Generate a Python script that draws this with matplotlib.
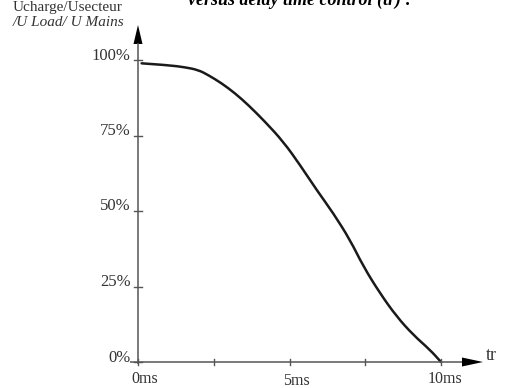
import matplotlib
matplotlib.use("Agg")
import matplotlib.pyplot as plt
from matplotlib.path import Path
from matplotlib.patches import PathPatch

# data
t_ms = [0.12, 1.0, 1.55, 1.99, 2.32, 2.76, 3.2, 3.64, 4.19, 4.8, 5.35, 5.9,
        6.45, 7.0, 7.44, 7.99, 8.54, 9.09, 9.64, 10.0]
ratio_pct = [98.9, 98.3, 97.6, 96.7, 95.0, 92.3, 89.0, 85.1, 79.6, 72.9, 65.2, 56.9,
             49.2, 40.4, 31.6, 22.7, 15.0, 8.9, 4.0, 0.0]
x_ticks = [0, 2.5, 5, 7.5, 10]
x_label_vals = [0, 5, 10]
x_labels = ["0ms", "5ms", "10ms"]
y_ticks = [0, 25, 50, 75, 100]
y_labels = ["0%", "25%", "50%", "75%", "100%"]

W, H = 505, 388
fig = plt.figure(figsize=(W / 100, H / 100), dpi=100)
fig.patch.set_facecolor("white")
L, R, T, B = 138, 441, 60, 362
ax = fig.add_axes([L / W, (H - B) / H, (R - L) / W, (B - T) / H])
ax.set_xlim(0, 10)
ax.set_ylim(0, 100)
ax.axis("off")

serif = ["Liberation Serif", "DejaVu Serif"]
axc = "#555555"
txtc = "#333333"

px_x = 10 / (R - L)
px_y = 100 / (B - T)

# axes lines with arrows
ax.plot([-8 * px_x, (462 - L) * px_x], [0, 0], color=axc, lw=1.1, clip_on=False, solid_capstyle="butt")
ax.plot([0, 0], [-2 * px_y, (B - 43) * px_y], color=axc, lw=1.1, clip_on=False, solid_capstyle="butt")
ax.fill([(462 - L) * px_x, (483 - L) * px_x, (462 - L) * px_x], [4.5 * px_y, 0, -4.5 * px_y],
        color="black", clip_on=False, lw=0)
ax.fill([-4.5 * px_x, 0, 4.5 * px_x], [(B - 44) * px_y, (B - 25) * px_y, (B - 44) * px_y],
        color="black", clip_on=False, lw=0)

# ticks
for xt in x_ticks:
    ax.plot([xt, xt], [-3 * px_y, 3 * px_y], color=axc, lw=1.0, clip_on=False)
for yt in y_ticks:
    ax.plot([-4 * px_x, 4 * px_x], [yt, yt], color=axc, lw=1.0, clip_on=False)

# tick labels
x_offsets = [6.5, 6.5, 4]
x_drop = [17, 19, 17]
for xv, lab, off, dy in zip(x_label_vals, x_labels, x_offsets, x_drop):
    ax.text(xv + off * px_x, -dy * px_y, lab, ha="center", va="center",
            fontsize=11.5, family=serif, color=txtc)
for yt, lab in zip(y_ticks, y_labels):
    ax.text(-7.5 * px_x, yt + 4.5 * px_y, lab, ha="right", va="center",
            fontsize=12, family=serif, color=txtc)

# smooth curve through the read points (quadratic segments via midpoints)
pts = list(zip(t_ms, ratio_pct))
verts = [pts[0]]
codes = [Path.MOVETO]
for i in range(1, len(pts) - 1):
    mid = ((pts[i][0] + pts[i + 1][0]) / 2, (pts[i][1] + pts[i + 1][1]) / 2)
    verts += [pts[i], mid]
    codes += [Path.CURVE3, Path.CURVE3]
verts.append(pts[-1])
codes.append(Path.LINETO)
ax.add_patch(PathPatch(Path(verts, codes), fill=False, edgecolor="#1a1a1a", lw=1.8,
                       clip_on=False, capstyle="round"))

# axis titles
fig.text(486 / W, 1 - 356 / H, "tr", ha="left", va="center", fontsize=13, family=serif, color=txtc)
fig.text(13 / W, 1 - 8 / H, "Ucharge/Usecteur", ha="left", va="center", fontsize=11,
         family=serif, color=txtc)
fig.text(13 / W, 1 - 23 / H, "/U Load/ U Mains", ha="left", va="center", fontsize=11,
         family=serif, style="italic", color=txtc)

# title, clipped at the top edge as in the reference
fig.text(300 / W, 1 - 5 / H, "versus delay time control (tr) :", ha="center", va="baseline",
         fontsize=13, family=serif, style="italic", weight="bold", color="black")

fig.savefig("out.png", dpi=100)
